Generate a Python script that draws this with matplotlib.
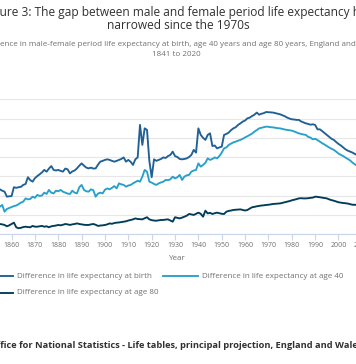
import numpy as np
import matplotlib
matplotlib.use("Agg")
import matplotlib.pyplot as plt
from matplotlib.lines import Line2D

# Donnees (ecart hommes-femmes, en annees)
years = np.arange(1841, 2021)

birth = [2.00, 2.10, 2.20, 2.00, 2.30, 2.10, 2.20, 2.40, 2.30, 2.20, 2.40, 2.30, 2.50, 2.40,
         2.32, 2.25, 2.20, 1.94, 1.96, 1.97, 2.43, 2.40, 2.43, 2.45, 2.55, 2.60, 2.95, 2.80,
         2.72, 2.90, 3.01, 3.10, 3.20, 3.33, 3.24, 3.40, 3.53, 3.33, 3.30, 3.33, 3.28, 3.24,
         3.40, 3.36, 3.15, 3.25, 3.30, 3.41, 3.55, 3.67, 3.55, 3.45, 3.41, 3.45, 3.40, 3.41,
         3.60, 3.76, 3.80, 3.85, 3.88, 3.85, 3.80, 3.76, 3.80, 3.85, 3.90, 3.98, 3.76, 3.85,
         3.75, 3.59, 3.88, 3.98, 5.67, 4.63, 5.49, 5.41, 3.80, 2.95, 3.88, 3.80, 3.85, 3.90,
         3.98, 3.95, 4.05, 4.11, 4.28, 4.05, 4.00, 3.90, 3.88, 3.90, 3.93, 4.00, 4.11, 4.37,
         4.23, 5.49, 5.15, 5.00, 4.89, 5.15, 5.23, 4.57, 4.60, 4.45, 4.50, 4.54, 5.15, 5.20,
         5.27, 5.40, 5.49, 5.55, 5.67, 5.75, 5.84, 5.90, 6.01, 6.05, 6.13, 6.20, 6.31, 6.20,
         6.25, 6.28, 6.34, 6.33, 6.32, 6.31, 6.28, 6.25, 6.22, 6.17, 6.12, 6.05, 6.00, 5.96,
         5.95, 5.93, 5.93, 5.85, 5.80, 5.75, 5.72, 5.68, 5.70, 5.67, 5.44, 5.44, 5.35, 5.25,
         5.15, 5.05, 4.95, 4.89, 4.78, 4.68, 4.60, 4.50, 4.40, 4.33, 4.28, 4.23, 4.16, 4.10,
         4.02, 3.95, 3.88, 3.85, 3.80, 3.75, 3.72, 3.70, 3.68, 3.66, 3.65, 3.70]

age40 = [1.20, 1.30, 1.40, 1.30, 1.50, 1.40, 1.30, 1.50, 1.40, 1.30, 1.50, 1.40, 1.50, 1.45,
         1.42, 1.51, 1.16, 1.30, 1.35, 1.40, 1.45, 1.48, 1.55, 1.63, 1.68, 1.85, 1.80, 1.82,
         1.94, 1.88, 2.03, 1.98, 2.00, 2.15, 2.08, 2.29, 2.15, 2.11, 2.25, 2.22, 2.29, 2.20,
         2.15, 2.10, 2.08, 2.25, 2.15, 2.11, 2.43, 2.55, 2.29, 2.22, 2.20, 2.32, 2.28, 1.94,
         2.10, 2.15, 2.11, 2.30, 2.37, 2.32, 2.40, 2.49, 2.37, 2.63, 2.58, 2.55, 2.46, 2.52,
         2.55, 2.63, 2.70, 2.77, 2.72, 2.98, 3.33, 3.24, 2.72, 2.67, 2.60, 2.55, 2.63, 2.68,
         2.72, 2.81, 2.80, 2.84, 2.98, 2.89, 2.95, 3.07, 2.81, 2.98, 3.05, 3.07, 3.24, 3.30,
         3.33, 3.67, 3.50, 3.59, 3.70, 3.93, 3.85, 3.90, 3.98, 3.93, 4.05, 4.23, 4.45, 4.50,
         4.63, 4.70, 4.76, 4.80, 4.85, 4.89, 4.95, 5.02, 5.08, 5.15, 5.22, 5.32, 5.40, 5.49,
         5.52, 5.55, 5.58, 5.57, 5.55, 5.54, 5.52, 5.50, 5.49, 5.46, 5.43, 5.41, 5.39, 5.37,
         5.33, 5.28, 5.23, 5.20, 5.17, 5.15, 5.05, 5.01, 4.92, 4.95, 4.88, 4.80, 4.72, 4.65,
         4.57, 4.50, 4.43, 4.37, 4.28, 4.18, 4.11, 4.05, 3.97, 3.90, 3.82, 3.71, 3.62, 3.55,
         3.48, 3.42, 3.38, 3.35, 3.30, 3.27, 3.25, 3.22, 3.20, 3.18, 3.17, 3.20]

age80 = [0.45, 0.50, 0.55, 0.50, 0.45, 0.50, 0.48, 0.52, 0.50, 0.47, 0.50, 0.53, 0.50, 0.48,
         0.52, 0.50, 0.47, 0.40, 0.45, 0.52, 0.59, 0.35, 0.30, 0.32, 0.36, 0.38, 0.36, 0.35,
         0.42, 0.38, 0.38, 0.40, 0.42, 0.38, 0.40, 0.35, 0.40, 0.42, 0.44, 0.47, 0.45, 0.48,
         0.52, 0.50, 0.47, 0.50, 0.52, 0.55, 0.52, 0.50, 0.48, 0.47, 0.47, 0.50, 0.52, 0.48,
         0.42, 0.44, 0.45, 0.47, 0.50, 0.55, 0.53, 0.57, 0.59, 0.60, 0.62, 0.64, 0.66, 0.70,
         0.73, 0.76, 0.81, 0.78, 0.77, 0.76, 0.82, 0.87, 0.76, 0.72, 0.70, 0.69, 0.71, 0.73,
         0.73, 0.75, 0.76, 0.70, 0.64, 0.87, 0.84, 0.81, 0.85, 0.90, 0.95, 1.04, 1.02, 0.99,
         1.05, 1.11, 1.05, 0.90, 1.21, 1.07, 1.10, 1.04, 1.08, 1.11, 1.08, 1.05, 1.04, 1.16,
         1.20, 1.22, 1.25, 1.26, 1.27, 1.28, 1.25, 1.22, 1.25, 1.32, 1.39, 1.41, 1.44, 1.46,
         1.48, 1.49, 1.51, 1.52, 1.54, 1.56, 1.57, 1.58, 1.59, 1.62, 1.65, 1.68, 1.71, 1.75,
         1.78, 1.81, 1.85, 1.86, 1.85, 1.85, 1.86, 1.88, 1.89, 1.94, 1.93, 1.91, 1.89, 1.87,
         1.85, 1.80, 1.76, 1.73, 1.69, 1.65, 1.63, 1.61, 1.60, 1.58, 1.55, 1.52, 1.52, 1.50,
         1.48, 1.46, 1.44, 1.42, 1.40, 1.38, 1.36, 1.35, 1.34, 1.33, 1.32, 1.40]

series_labels = ["Difference in life expectancy at birth",
                 "Difference in life expectancy at age 40",
                 "Difference in life expectancy at age 80"]
series_colors = ["#206095", "#27a0cc", "#003c57"]

title1 = "Figure 3: The gap between male and female period life expectancy has"
title2 = "narrowed since the 1970s"
subtitle1 = ("Difference in male-female period life expectancy at birth, age 40 years "
             "and age 80 years, England and Wales,")
subtitle2 = "1841 to 2020"
source = ("Source: Office for National Statistics - Life tables, principal projection, "
          "England and Wales")

W, H = 356, 364
plt.rcParams['font.family'] = ['Open Sans', 'DejaVu Sans']


def fx(px):
    return px / W


def fy(py):
    return 1 - py / H


fig = plt.figure(figsize=(W / 100, H / 100), dpi=100)
rend = fig.canvas.get_renderer()


def largeur(txt, size, weight='normal'):
    t = fig.text(0, 0, txt, fontsize=size, fontweight=weight)
    w = t.get_window_extent(rend).width
    t.remove()
    return w


def texte_coupe(py, full, cut, visible, target, color, weight='normal'):
    # texte recadre : la partie `visible` doit couvrir `target` pixels depuis x=0
    size = 8 * target / largeur(visible, 8, weight)
    left = -largeur(cut, size, weight)
    fig.text(fx(left), fy(py), full, ha='left', va='center', fontsize=size,
             color=color, fontweight=weight)
    return size


# axes qui debordent a gauche et a droite (image recadree)
x0, x1 = -32.8, 385.2
ytop, ybot = 99.3, 234
ax = fig.add_axes([fx(x0), fy(ybot), (x1 - x0) / W, (ybot - ytop) / H])

for vals, col in zip([birth, age40, age80], series_colors):
    ax.plot(years, vals, color=col, lw=1.35, solid_joinstyle='round')

ax.set_xlim(1841, 2020)
ax.set_ylim(0, 7)
ax.set_yticks(np.arange(0, 8, 1))
ax.set_xticks(np.arange(1850, 2021, 10))
ax.grid(axis='y', color='#e6e6e6', lw=0.8)
ax.set_axisbelow(True)
for s in ['top', 'right', 'left']:
    ax.spines[s].set_visible(False)
ax.spines['bottom'].set_color('#ccd6eb')
ax.spines['bottom'].set_linewidth(0.8)
ax.tick_params(axis='y', left=False, labelleft=False)
ax.tick_params(axis='x', color='#ccd6eb', length=4, width=0.8, pad=1.5,
               labelsize=5, labelcolor='#707071')
ax.set_xlabel('Year', fontsize=5.8, color='#707071', labelpad=4.8)

# titres
ts = texte_coupe(12.7, title1, "Fig",
                 "ure 3: The gap between male and female period life expectancy h",
                 363, '#323132')
fig.text(fx(178), fy(25.8), title2, ha='center', va='center', fontsize=ts, color='#323132')
ss = texte_coupe(45, subtitle1, "Differ",
                 "ence in male-female period life expectancy at birth, age 40 years "
                 "and age 80 years, England and W", 366, '#707071')
fig.text(fx(176), fy(54), subtitle2, ha='center', va='center', fontsize=ss, color='#707071')

# legende
leg = [(-21.7, 276, series_labels[0], series_colors[0]),
       (163.3, 276, series_labels[1], series_colors[1]),
       (-21.7, 292.7, series_labels[2], series_colors[2])]
for lx, ly, lab, col in leg:
    fig.add_artist(Line2D([fx(lx), fx(lx + 35)], [fy(ly), fy(ly)],
                          transform=fig.transFigure, color=col, lw=1.35))
    fig.text(fx(lx + 38.5), fy(ly), lab, ha='left', va='center',
             fontsize=5.75, color='#707071')

# source
texte_coupe(346, source, "Source: Of",
            "fice for National Statistics - Life tables, principal projection, England and Wale",
            357, '#323132', weight='bold')

fig.savefig('out.png', dpi=100, facecolor='white')
